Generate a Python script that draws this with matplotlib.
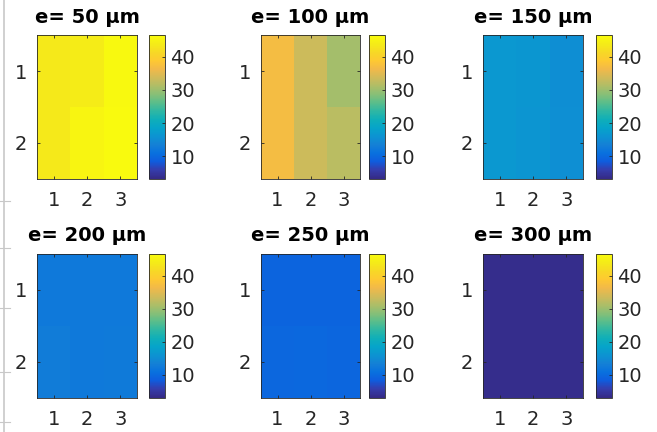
import numpy as np
import matplotlib
matplotlib.use("Agg")
import matplotlib.pyplot as plt
from matplotlib.colors import LinearSegmentedColormap
from matplotlib.lines import Line2D

# ---- data ----
titles = ["e= 50 µm", "e= 100 µm", "e= 150 µm", "e= 200 µm", "e= 250 µm", "e= 300 µm"]
v50 = [[43.6, 44.0, 46.0], [43.6, 45.6, 46.2]]
v100 = [[37.0, 33.4, 30.6], [37.0, 33.4, 32.0]]
v150 = [[16.6, 16.4, 15.3], [16.6, 16.3, 15.4]]
v200 = [[12.2, 12.2, 12.2], [12.8, 12.3, 12.4]]
v250 = [[9.3, 9.3, 9.3], [9.7, 9.8, 9.6]]
v300 = [[3.6, 3.6, 3.6], [3.7, 3.7, 3.7]]
values = [v50, v100, v150, v200, v250, v300]
x_labels = ["1", "2", "3"]
y_labels = ["1", "2"]
cbar_ticks = [10, 20, 30, 40]
clim = (3.2, 46.5)

# ---- parula colormap ----
parula_pts = [
    (0.2081, 0.1663, 0.5292), (0.2081, 0.2386, 0.6771), (0.0591, 0.3598, 0.8683),
    (0.0329, 0.4430, 0.8720), (0.0779, 0.5040, 0.8384), (0.0488, 0.5772, 0.8228),
    (0.0231, 0.6418, 0.7913), (0.0590, 0.6838, 0.7254), (0.1801, 0.7177, 0.6424),
    (0.3482, 0.7424, 0.5473), (0.5300, 0.7491, 0.4661), (0.6834, 0.7435, 0.4044),
    (0.8185, 0.7327, 0.3498), (0.9450, 0.7261, 0.2886), (0.9955, 0.7861, 0.1967),
    (0.9697, 0.8481, 0.1475), (0.9598, 0.9218, 0.0948), (0.9763, 0.9831, 0.0538),
]
parula = LinearSegmentedColormap.from_list("parula", parula_pts, N=256)

W, H = 657, 432
fig = plt.figure(figsize=(W / 100, H / 100), dpi=100)
plt.rcParams['font.family'] = ['DejaVu Sans']

def rect(x0, y0, x1, y1):
    return [x0 / W, 1 - y1 / H, (x1 - x0) / W, (y1 - y0) / H]

ax_x = [(37, 137, 149, 165), (261, 360, 369, 385), (483, 583, 596, 612)]
ax_y = [(35.5, 178.5), (254, 397.5)]

txt_col = "#262626"
xe = np.arange(0.5, 4.0, 1.0)
ye = np.arange(0.5, 3.0, 1.0)
for i, (title, vals) in enumerate(zip(titles, values)):
    r, c = divmod(i, 3)
    hx0, hx1, cx0, cx1 = ax_x[c]
    y0, y1 = ax_y[r]
    ax = fig.add_axes(rect(hx0, y0, hx1, y1))
    cax = fig.add_axes(rect(cx0, y0, cx1, y1))
    arr = np.array(vals)
    im = ax.pcolormesh(xe, ye, arr, cmap=parula, vmin=clim[0], vmax=clim[1],
                       shading='flat')
    ax.set_xlim(0.5, 3.5)
    ax.set_ylim(2.5, 0.5)
    ax.set_xticks([1, 2, 3])
    ax.set_xticklabels(x_labels)
    ax.set_yticks([1, 2])
    ax.set_yticklabels(y_labels)
    ax.tick_params(direction='in', length=2.5, width=0.6, colors=txt_col,
                   labelsize=14, top=True, right=True)
    ax.tick_params(axis='x', pad=9)
    ax.tick_params(axis='y', pad=7)
    for s in ax.spines.values():
        s.set_color(txt_col)
        s.set_linewidth(0.6)
    ax.set_title(title, fontsize=14, fontweight='bold', pad=9, color='black')

    cb = fig.colorbar(im, cax=cax, ticks=cbar_ticks)
    cb.outline.set_edgecolor(txt_col)
    cb.outline.set_linewidth(0.6)
    cax.tick_params(direction='in', length=2.5, width=0.6, colors=txt_col,
                    labelsize=14, pad=4)

# cropped left-edge border artefact
fig.add_artist(Line2D([3.5 / W, 3.5 / W], [0, 1], color="#c8c8c8", lw=1.2,
                      transform=fig.transFigure))
for yy in [201, 248, 308, 372, 422]:
    fig.add_artist(Line2D([0, 10 / W], [1 - yy / H, 1 - yy / H], color="#c8c8c8",
                          lw=0.8, transform=fig.transFigure))

fig.savefig("out.png", dpi=100)
